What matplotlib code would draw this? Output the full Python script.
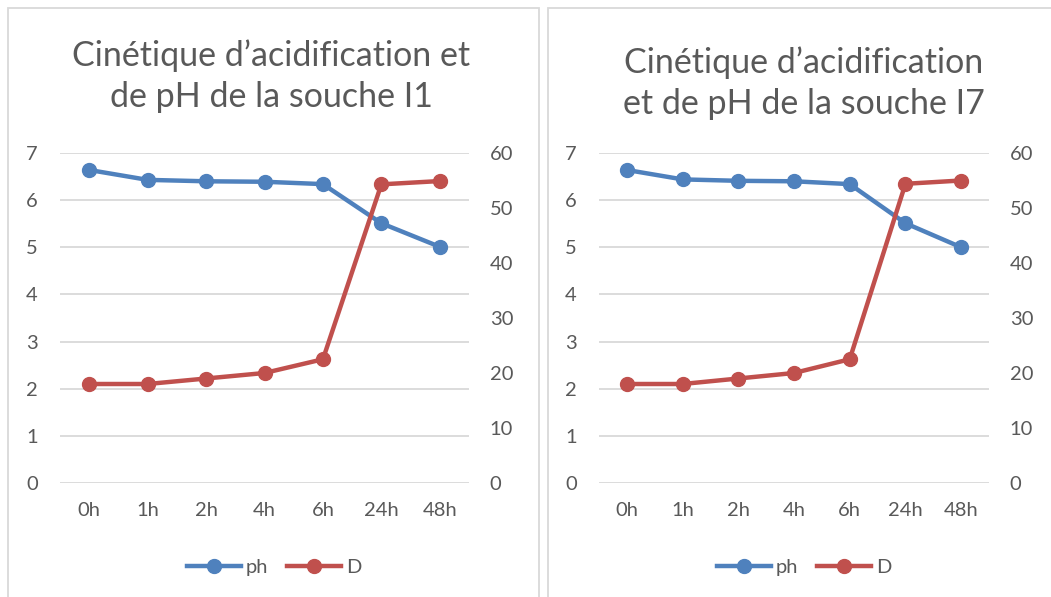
import matplotlib

matplotlib.use("Agg")
from matplotlib import pyplot as plt
from matplotlib.patches import Rectangle
from matplotlib.lines import Line2D

W, H = 1051, 597

categories = ["0h", "1h", "2h", "4h", "6h", "24h", "48h"]

ph_i1 = [6.64, 6.43, 6.40, 6.39, 6.34, 5.51, 5.01]
d_i1 = [18.0, 18.0, 19.0, 20.0, 22.5, 54.3, 54.9]

ph_i7 = [6.64, 6.44, 6.41, 6.40, 6.34, 5.51, 5.00]
d_i7 = [18.0, 18.0, 19.0, 20.0, 22.5, 54.4, 55.0]

titles = [
    "Cinétique d\u2019acidification et\nde pH de la souche I1",
    "Cinétique d\u2019acidification\net de pH de la souche I7",
]

BLUE = "#4F81BD"
RED = "#C0504D"
GRID = "#D9D9D9"
TEXT = "#595959"
FONT = "Lato"

plt.rcParams["font.family"] = [FONT, "DejaVu Sans"]

fig = plt.figure(figsize=(W / 100, H / 100), dpi=100)


def px_box(x0, y0, x1, y1):
    return [x0 / W, 1 - y1 / H, (x1 - x0) / W, (y1 - y0) / H]


# chart frames (Excel chart areas, cut off at the bottom / right)
for x0, x1 in [(8, 539), (548, 1060)]:
    fig.patches.append(
        Rectangle((x0 / W, -0.1), (x1 - x0) / W, (H - 8) / H + 0.1,
                  transform=fig.transFigure, fill=False,
                  edgecolor=GRID, linewidth=1.3)
    )

panels = [
    dict(box=(60, 153, 469, 483), ph=ph_i1, d=d_i1, title=titles[0],
         tx=271, ty=76, lx=274),
    dict(box=(599, 153, 989, 483), ph=ph_i7, d=d_i7, title=titles[1],
         tx=804, ty=83, lx=804),
]

xs = list(range(len(categories)))
for p in panels:
    ax = fig.add_axes(px_box(*p["box"]))
    ax2 = ax.twinx()
    ax.plot(xs, p["ph"], color=BLUE, lw=3.2, marker="o", ms=10,
            solid_capstyle="round", zorder=3)
    ax2.plot(xs, p["d"], color=RED, lw=3.2, marker="o", ms=10,
             solid_capstyle="round", zorder=3)
    ax.set_xlim(-0.5, 6.5)
    ax.set_ylim(0, 7)
    ax2.set_ylim(0, 60)
    ax.set_yticks(range(0, 8))
    ax2.set_yticks(range(0, 61, 10))
    ax.set_xticks(xs)
    ax.set_xticklabels(categories)
    ax.grid(axis="y", color=GRID, lw=1.3)
    ax.set_axisbelow(True)
    for a in (ax, ax2):
        for s in a.spines.values():
            s.set_visible(False)
        a.tick_params(length=0, labelsize=14.5, colors=TEXT)
    ax.tick_params(axis="y", pad=16)
    ax.tick_params(axis="x", pad=14)
    ax2.tick_params(axis="y", pad=15)

    fig.text(p["tx"] / W, 1 - p["ty"] / H, p["title"], ha="center",
             va="center", fontsize=24.5, color=TEXT, linespacing=1.35)

    handles = [
        Line2D([], [], color=BLUE, lw=3.2, marker="o", ms=10),
        Line2D([], [], color=RED, lw=3.2, marker="o", ms=10),
    ]
    fig.legend(handles, ["ph", "D"], loc="center",
               bbox_to_anchor=(p["lx"] / W, 1 - 567 / H), ncol=2,
               frameon=False, fontsize=14.5, labelcolor=TEXT,
               handlelength=2.7, handletextpad=0.25, columnspacing=0.9)

fig.savefig("out.png", dpi=100)
